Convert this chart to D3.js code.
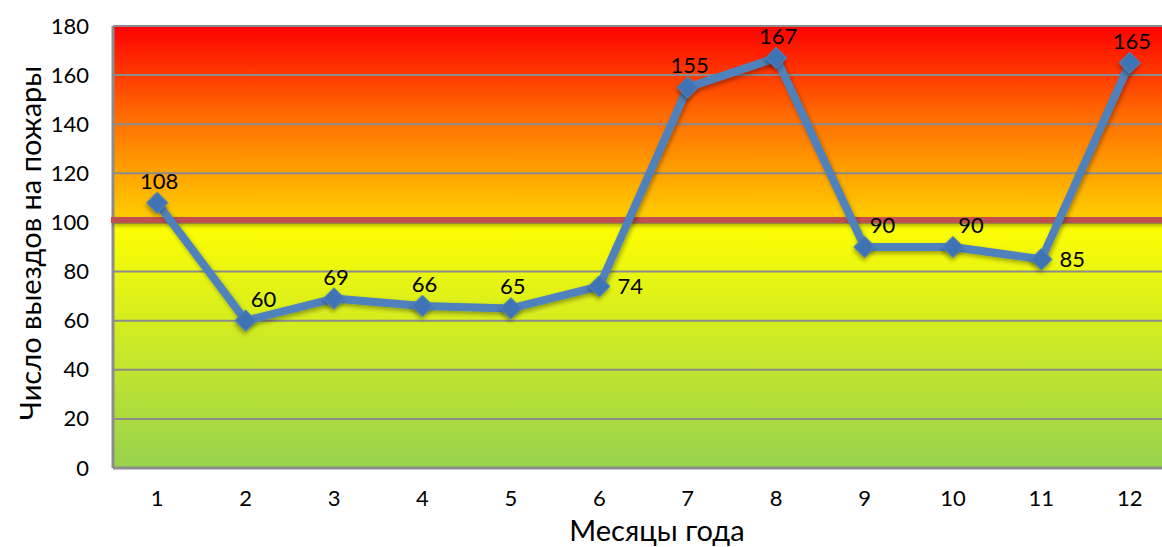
<!DOCTYPE html>
<html><head><meta charset="utf-8">
<script src="https://cdn.jsdelivr.net/npm/d3@7"></script>
<style>body{margin:0;background:#fff}svg{display:block}text{font-family:Lato,"Open Sans",sans-serif;fill:#000}</style>
</head><body><svg id="c" width="1162" height="547"></svg>
<script>
const months = ["1","2","3","4","5","6","7","8","9","10","11","12"];
const fires = [108,60,69,66,65,74,155,167,90,90,85,165];
const labelPlacement = ["above","aboveRight","above","above","above","right","above","above","aboveRight","aboveRight","right","above"];
const yTicks = [0,20,40,60,80,100,120,140,160,180];
const threshold = 101;
const yTitle = "Число выездов на пожары";
const xTitle = "Месяцы года";

const svg = d3.select("#c");
const L = 113, R = 1174, T = 26, B = 468;
const x = d3.scaleBand().domain(months).range([L, R]);
const y = d3.scaleLinear().domain([0,180]).range([B, T]);
const defs = svg.append("defs");
const gTop = defs.append("linearGradient").attr("id","gTop").attr("x1",0).attr("y1",0).attr("x2",0).attr("y2",1);
gTop.append("stop").attr("offset","0%").attr("stop-color","#FF0000");
gTop.append("stop").attr("offset","45%").attr("stop-color","#FF6A00");
gTop.append("stop").attr("offset","100%").attr("stop-color","#FFD200");
const gBot = defs.append("linearGradient").attr("id","gBot").attr("x1",0).attr("y1",0).attr("x2",0).attr("y2",1);
gBot.append("stop").attr("offset","0%").attr("stop-color","#FFFF00");
gBot.append("stop").attr("offset","100%").attr("stop-color","#96D24E");
const shU = defs.append("filter").attr("id","shU").attr("filterUnits","userSpaceOnUse")
  .attr("x",0).attr("y",0).attr("width",1162).attr("height",547);
shU.append("feDropShadow").attr("dx",1.5).attr("dy",2.5).attr("stdDeviation",2).attr("flood-color","#000").attr("flood-opacity",0.35);
const sh = defs.append("filter").attr("id","sh").attr("x","-50%").attr("y","-50%").attr("width","200%").attr("height","200%");
sh.append("feDropShadow").attr("dx",1.5).attr("dy",2.5).attr("stdDeviation",2).attr("flood-color","#000").attr("flood-opacity",0.35);

svg.append("rect").attr("x",L).attr("y",y(180)).attr("width",R-L).attr("height",y(100)-y(180)).attr("fill","url(#gTop)");
svg.append("rect").attr("x",L).attr("y",y(100)).attr("width",R-L).attr("height",y(0)-y(100)).attr("fill","url(#gBot)");

// gridlines
svg.append("g").selectAll("line").data(yTicks).join("line")
  .attr("x1",L).attr("x2",R).attr("y1",d=>y(d)).attr("y2",d=>y(d))
  .attr("stroke","#8C8C8C").attr("stroke-width",2);
svg.append("line").attr("x1",L).attr("x2",L).attr("y1",y(180)).attr("y2",y(0)).attr("stroke","#8C8C8C").attr("stroke-width",3);
svg.append("line").attr("x1",L).attr("x2",R).attr("y1",y(0)).attr("y2",y(0)).attr("stroke","#8C8C8C").attr("stroke-width",3);

// threshold line
svg.append("line").attr("x1",L-2).attr("x2",R).attr("y1",y(threshold)).attr("y2",y(threshold))
  .attr("stroke","#C0504D").attr("stroke-width",6).attr("filter","url(#shU)");

// y axis labels
const ya = d3.axisLeft(y).tickValues(yTicks).tickSize(0).tickPadding(0);
const yg = svg.append("g").attr("transform",`translate(${89},0)`).call(ya);
yg.select(".domain").remove();
yg.selectAll("text").style("font-size","22px").attr("fill","#000");

// x axis labels
const xa = d3.axisBottom(x).tickSize(0).tickPadding(0);
const xg = svg.append("g").attr("transform",`translate(0,${490})`).call(xa);
xg.select(".domain").remove();
xg.selectAll("text").style("font-size","22px").attr("dy","0.71em").attr("fill","#000");

// line
const cx = d => x(d) + x.bandwidth()/2;
const pts = months.map((m,i)=>({m, v:fires[i], p:labelPlacement[i]}));
svg.append("path").datum(pts)
  .attr("d", d3.line().x(d=>cx(d.m)).y(d=>y(d.v)))
  .attr("fill","none").attr("stroke","#4F81BD").attr("stroke-width",8).attr("stroke-linejoin","round")
  .attr("filter","url(#shU)");
svg.append("g").selectAll("path").data(pts).join("path")
  .attr("d", d3.symbol(d3.symbolSquare, 220)())
  .attr("transform", d=>`translate(${cx(d.m)},${y(d.v)}) rotate(45)`)
  .attr("fill","#3F73B4").attr("stroke","#4F81BD").attr("stroke-width",1).attr("filter","url(#sh)");

// labels
const off = {above:[2,-14], aboveRight:[18,-14], right:[31,8]};
svg.append("g").selectAll("text").data(pts).join("text")
  .attr("x", d=>cx(d.m)+off[d.p][0]).attr("y", d=>y(d.v)+off[d.p][1])
  .attr("text-anchor","middle").style("font-size","22px").text(d=>d.v);

// titles
svg.append("text").attr("transform","translate(41,243) rotate(-90)").attr("text-anchor","middle")
  .style("font-size","29px").text(yTitle);
svg.append("text").attr("x",657).attr("y",541).attr("text-anchor","middle")
  .style("font-size","29px").text(xTitle);
</script></body></html>
